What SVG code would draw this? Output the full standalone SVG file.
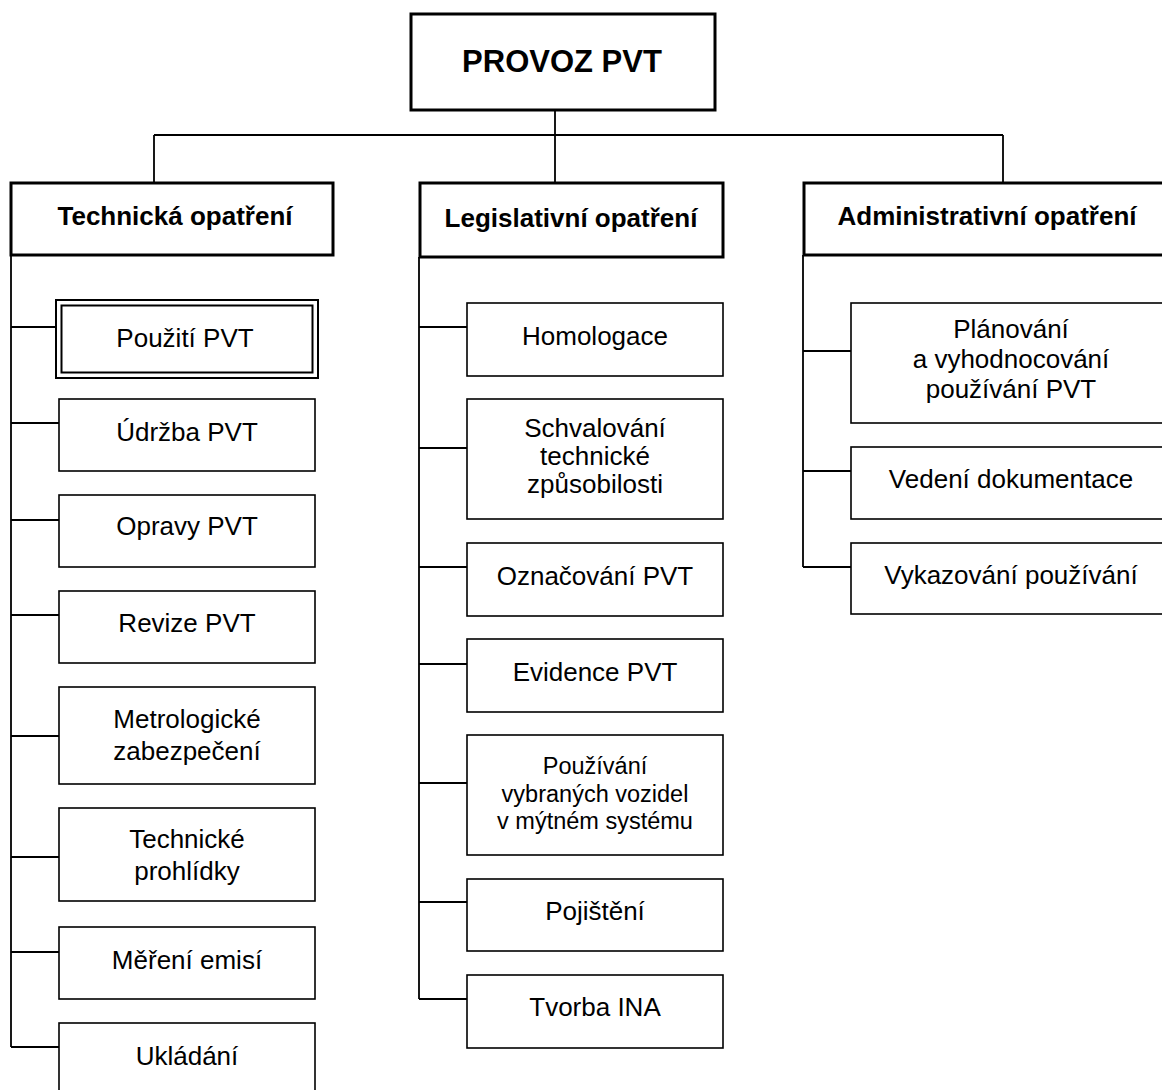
<svg xmlns="http://www.w3.org/2000/svg" width="1162" height="1090" viewBox="0 0 1162 1090">
<style>
  .box{fill:#fff;stroke:#000;stroke-width:1.6}
  .hdr{fill:#fff;stroke:#000;stroke-width:3}
  .t{font-family:"Liberation Sans",Arial,sans-serif;font-size:26px;fill:#000;text-anchor:middle}
  .s{font-size:23.5px}
  .b{font-weight:bold}
  .ln{stroke:#000;stroke-width:1.8;fill:none}
</style>
<rect width="1162" height="1090" fill="#fff"/>
<g id="connectors">
  <path class="ln" d="M555 110 V182 M154 135 H1003 M154 135 V182 M1003 135 V182"/>
  <path class="ln" d="M11 255 V1047 M11 327 H56 M11 423 H59 M11 520 H59 M11 615 H59 M11 736 H59 M11 857 H59 M11 952 H59 M11 1047 H59"/>
  <path class="ln" d="M419 257 V999 M419 327 H467 M419 448 H467 M419 567 H467 M419 664 H467 M419 783 H467 M419 902 H467 M419 999 H467"/>
  <path class="ln" d="M803 255 V567 M803 351 H851 M803 471 H851 M803 567 H851"/>
</g>
<g id="root">
  <rect x="411" y="14" width="304" height="96" fill="#fff" stroke="#000" stroke-width="3"/>
  <text class="t b" x="562" y="72" style="font-size:31px">PROVOZ PVT</text>
</g>
<g id="technicka">
  <rect class="hdr" x="11" y="183" width="322" height="72" stroke-width="3.5"/>
  <text class="t b" x="175" y="225">Technická opatření</text>
</g>
<g id="legislativni">
  <rect class="hdr" x="420" y="183" width="303" height="74" stroke-width="2.6"/>
  <text class="t b" x="571" y="227">Legislativní opatření</text>
</g>
<g id="administrativni">
  <rect class="hdr" x="804" y="183" width="370" height="72"/>
  <text class="t b" x="987" y="225">Administrativní opatření</text>
</g>
<g id="pouziti">
  <rect x="56" y="300" width="262" height="78" fill="#fff" stroke="#000" stroke-width="2"/>
  <rect x="61.5" y="305.5" width="251" height="67" fill="none" stroke="#000" stroke-width="2"/>
  <text class="t" x="185" y="347">Použití PVT</text>
</g>
<g id="udrzba"><rect class="box" x="59" y="399" width="256" height="72"/><text class="t" x="187" y="441">Údržba PVT</text></g>
<g id="opravy"><rect class="box" x="59" y="495" width="256" height="72"/><text class="t" x="187" y="535">Opravy PVT</text></g>
<g id="revize"><rect class="box" x="59" y="591" width="256" height="72"/><text class="t" x="187" y="632">Revize PVT</text></g>
<g id="metrologicke"><rect class="box" x="59" y="687" width="256" height="97"/><text class="t" x="187" y="728">Metrologické</text><text class="t" x="187" y="760">zabezpečení</text></g>
<g id="prohlidky"><rect class="box" x="59" y="808" width="256" height="93"/><text class="t" x="187" y="848">Technické</text><text class="t" x="187" y="880">prohlídky</text></g>
<g id="emise"><rect class="box" x="59" y="927" width="256" height="72"/><text class="t" x="187" y="969">Měření emisí</text></g>
<g id="ukladani"><rect class="box" x="59" y="1023" width="256" height="90"/><text class="t" x="187" y="1065">Ukládání</text></g>
<g id="homologace"><rect class="box" x="467" y="303" width="256" height="73"/><text class="t" x="595" y="345">Homologace</text></g>
<g id="schvalovani"><rect class="box" x="467" y="399" width="256" height="120"/><text class="t" x="595" y="437">Schvalování</text><text class="t" x="595" y="465">technické</text><text class="t" x="595" y="493">způsobilosti</text></g>
<g id="oznacovani"><rect class="box" x="467" y="543" width="256" height="73"/><text class="t" x="595" y="585">Označování PVT</text></g>
<g id="evidence"><rect class="box" x="467" y="639" width="256" height="73"/><text class="t" x="595" y="681">Evidence PVT</text></g>
<g id="pouzivani"><rect class="box" x="467" y="735" width="256" height="120"/><text class="t s" x="595" y="774">Používání</text><text class="t s" x="595" y="802">vybraných vozidel</text><text class="t s" x="595" y="829">v mýtném systému</text></g>
<g id="pojisteni"><rect class="box" x="467" y="879" width="256" height="72"/><text class="t" x="595" y="920">Pojištění</text></g>
<g id="tvorba"><rect class="box" x="467" y="975" width="256" height="73"/><text class="t" x="595" y="1016">Tvorba INA</text></g>
<g id="planovani"><rect class="box" x="851" y="303" width="320" height="120"/><text class="t" x="1011" y="338">Plánování</text><text class="t" x="1011" y="368">a vyhodnocování</text><text class="t" x="1011" y="398">používání PVT</text></g>
<g id="vedeni"><rect class="box" x="851" y="447" width="320" height="72"/><text class="t" x="1011" y="488">Vedení dokumentace</text></g>
<g id="vykazovani"><rect class="box" x="851" y="543" width="320" height="71"/><text class="t" x="1011" y="584">Vykazování používání</text></g>
</svg>
